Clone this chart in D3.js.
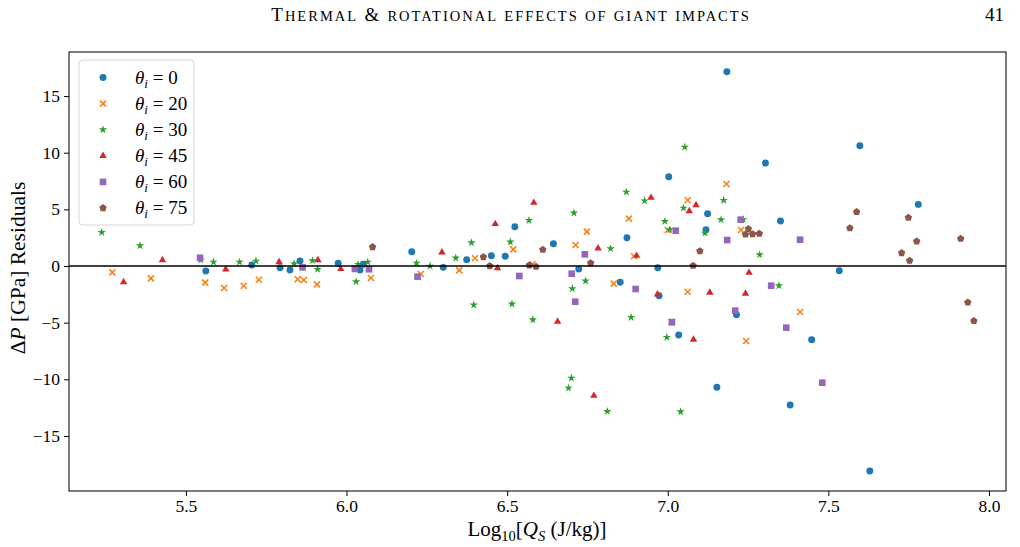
<!DOCTYPE html>
<html><head><meta charset="utf-8">
<script src="https://cdn.jsdelivr.net/npm/d3@7"></script>
<style>
body{margin:0;background:#fff}
svg{display:block}
text{font-family:"Liberation Serif","Times New Roman",serif;fill:#000}
</style>
</head><body>
<svg id="chart" width="1020" height="547"></svg>
<script>
// ---- data ----
const seriesLabels = ["0", "20", "30", "45", "60", "75"];
const colors = ["#1f77b4", "#ff7f0e", "#2ca02c", "#d62728", "#9467bd", "#8c564b"];
const xTicks = [5.5, 6.0, 6.5, 7.0, 7.5, 8.0];
const yTicks = [-15, -10, -5, 0, 5, 10, 15];

const theta0_x = [5.562,5.705,5.793,5.824,5.855,5.974,6.042,6.052,6.203,6.301,6.374,6.451,6.494,6.524,6.644,6.723,6.852,6.873,6.969,6.973,7.003,7.034,7.119,7.124,7.153,7.184,7.214,7.304,7.351,7.381,7.448,7.534,7.598,7.629,7.780];
const theta0_y = [-0.44,0.09,-0.15,-0.35,0.44,0.24,-0.35,0.15,1.26,-0.12,0.56,0.91,0.86,3.47,1.97,-0.26,-1.44,2.50,-0.15,-2.62,7.88,-6.09,3.21,4.62,-10.71,17.15,-4.30,9.09,3.97,-12.27,-6.50,-0.41,10.62,-18.09,5.44];

const theta20_x = [5.271,5.391,5.560,5.619,5.680,5.727,5.848,5.867,5.908,6.076,6.231,6.351,6.400,6.519,6.579,6.713,6.748,6.879,6.832,6.895,7.062,7.062,7.000,7.012,7.183,7.228,7.412,7.244];
const theta20_y = [-0.56,-1.09,-1.47,-1.94,-1.74,-1.21,-1.17,-1.24,-1.62,-1.06,-0.71,-0.38,0.68,1.47,0.15,1.85,3.03,4.18,-1.56,0.86,-2.27,5.80,3.18,-4.91,7.24,3.18,-4.06,-6.62];

const theta30_x = [5.238,5.357,5.546,5.586,5.667,5.718,5.837,5.894,5.910,6.030,6.036,6.066,6.218,6.260,6.340,6.389,6.396,6.510,6.515,6.568,6.580,6.708,6.703,6.744,6.822,6.871,6.886,6.928,6.991,7.006,7.049,7.053,7.174,7.166,7.235,7.116,7.286,7.346,6.997,6.700,6.691,6.812,7.040];
const theta30_y = [2.97,1.79,0.53,0.35,0.35,0.44,0.21,0.47,-0.29,-1.38,0.15,0.35,0.26,0.00,0.71,2.06,-3.44,2.12,-3.35,4.03,-4.74,4.68,-2.00,-1.32,1.53,6.53,-4.53,5.76,3.94,3.21,5.12,10.50,5.80,4.09,4.12,2.91,1.00,-1.74,-6.29,-9.89,-10.77,-12.83,-12.86];

const theta45_x = [5.306,5.427,5.624,5.790,5.911,5.982,6.297,6.463,6.470,6.583,6.657,6.783,6.903,6.948,7.067,7.088,6.968,7.253,7.131,7.242,7.080,6.770];
const theta45_y = [-1.41,0.53,-0.29,0.35,0.53,-0.26,1.21,3.71,-0.18,5.59,-4.91,1.56,0.91,6.03,4.85,5.38,-2.50,-0.59,-2.35,-2.44,-6.50,-11.45];

const theta60_x = [5.544,5.863,6.026,6.070,6.221,6.538,6.701,6.742,6.712,6.900,7.025,7.013,7.227,7.185,7.412,7.322,7.210,7.369,7.481];
const theta60_y = [0.73,-0.12,-0.26,-0.29,-0.94,-0.88,-0.68,1.03,-3.15,-2.03,3.12,-4.97,4.09,2.29,2.32,-1.74,-3.94,-5.44,-10.30];

const theta75_x = [6.081,6.426,6.446,6.569,6.590,6.611,6.760,7.079,7.100,7.251,7.242,7.264,7.285,7.588,7.567,7.749,7.775,7.728,7.753,7.912,7.934,7.953];
const theta75_y = [1.68,0.79,0.00,0.06,-0.06,1.44,0.26,0.03,1.32,3.27,2.79,2.82,2.85,4.77,3.35,4.27,2.18,1.15,0.47,2.41,-3.21,-4.85];

const seriesX = [theta0_x, theta20_x, theta30_x, theta45_x, theta60_x, theta75_x];
const seriesY = [theta0_y, theta20_y, theta30_y, theta45_y, theta60_y, theta75_y];

// ---- layout ----
const svg = d3.select("#chart");
const L = 69, R = 1006, T = 52, B = 491;
const x = d3.scaleLinear().domain([5.136, 8.053]).range([L, R]);
const y = d3.scaleLinear().domain([-19.86, 18.89]).range([B, T]);

// header (small caps)
const head = svg.append("text").attr("x", 511).attr("y", 21).attr("text-anchor", "middle");
const headWords = ["Thermal", "&", "rotational", "effects", "of", "giant", "impacts"];
headWords.forEach((w, i) => {
  if (i > 0) head.append("tspan").style("font-size", "17px").text(" ");
  if (i === 0) {
    head.append("tspan").style("font-size", "19px").text("T");
    head.append("tspan").style("font-size", "14.5px").text(w.slice(1).toUpperCase());
  } else if (w === "&") {
    head.append("tspan").style("font-size", "19px").text("&");
  } else {
    head.append("tspan").style("font-size", "14.5px").text(w.toUpperCase());
  }
});
head.style("letter-spacing", "2px");
svg.append("text").attr("x", 1004).attr("y", 21).attr("text-anchor", "end").style("font-size", "19px").text("41");

// clip
svg.append("clipPath").attr("id", "clip").append("rect").attr("x", L).attr("y", T).attr("width", R - L).attr("height", B - T);

// marker generators
function pentagon(r) {
  const pts = d3.range(5).map(k => {
    const a = -Math.PI / 2 + k * 2 * Math.PI / 5;
    return [r * Math.cos(a), r * Math.sin(a)];
  });
  return "M" + pts.map(p => p.join(",")).join("L") + "Z";
}
function xMark(h) { return `M${-h},${-h}L${h},${h}M${-h},${h}L${h},${-h}`; }
const shapes = [
  {d: d3.symbol(d3.symbolCircle, 38)(), stroke: false},
  {d: xMark(3.0), stroke: true},
  {d: d3.symbol(d3.symbolStar, 22)(), stroke: false},
  {d: d3.symbol(d3.symbolTriangle, 24)(), stroke: false},
  {d: d3.symbol(d3.symbolSquare, 44)(), stroke: false},
  {d: pentagon(3.9), stroke: false}
];
function drawMarker(g, i) {
  const s = shapes[i];
  const p = g.append("path").attr("d", s.d);
  if (s.stroke) p.attr("fill", "none").attr("stroke", colors[i]).attr("stroke-width", 1.6);
  else p.attr("fill", colors[i]);
  return p;
}

// points
const pg = svg.append("g").attr("clip-path", "url(#clip)");
seriesX.forEach((xs, i) => {
  const data = xs.map((v, k) => [v, seriesY[i][k]]);
  const g = pg.append("g");
  data.forEach(d => {
    const m = g.append("g").attr("transform", `translate(${x(d[0])},${y(d[1])})`);
    drawMarker(m, i);
  });
});

// zero line
svg.append("line").attr("x1", L).attr("x2", R).attr("y1", y(0)).attr("y2", y(0))
  .attr("stroke", "#000").attr("stroke-width", 1.5);

// axes
const fmtY = d => (d < 0 ? "\u2212" + Math.abs(d) : String(d));
const xAxis = svg.append("g").attr("transform", `translate(0,${B})`)
  .call(d3.axisBottom(x).tickValues(xTicks).tickFormat(d3.format(".1f")).tickSize(5).tickSizeOuter(0).tickPadding(4));
const yAxis = svg.append("g").attr("transform", `translate(${L},0)`)
  .call(d3.axisLeft(y).tickValues(yTicks).tickFormat(fmtY).tickSize(5).tickSizeOuter(0).tickPadding(4));
[xAxis, yAxis].forEach(a => {
  a.select(".domain").remove();
  a.selectAll("line").attr("stroke", "#000").attr("stroke-width", 1);
  a.selectAll("text").style("font-size", "17.5px").style("font-family", '"Liberation Serif",serif');
});

// frame
svg.append("rect").attr("x", L).attr("y", T).attr("width", R - L).attr("height", B - T)
  .attr("fill", "none").attr("stroke", "#111").attr("stroke-width", 1.1);

// axis labels
const xl = svg.append("text").attr("x", 537).attr("y", 536).attr("text-anchor", "middle").style("font-size", "21px");
xl.append("tspan").text("Log");
xl.append("tspan").attr("dy", 5).style("font-size", "14.5px").text("10");
xl.append("tspan").attr("dy", -5).text("[");
xl.append("tspan").style("font-style", "italic").text("Q");
xl.append("tspan").attr("dy", 5).style("font-size", "14.5px").style("font-style", "italic").text("S");
xl.append("tspan").attr("dy", -5).text(" (J/kg)]");

const yl = svg.append("text").attr("transform", "translate(25,268) rotate(-90)").attr("text-anchor", "middle").style("font-size", "21.5px");
yl.append("tspan").text("\u0394");
yl.append("tspan").style("font-style", "italic").text("P");
yl.append("tspan").text(" [GPa] Residuals");

// legend
const lg = svg.append("g");
lg.append("rect").attr("x", 79).attr("y", 60).attr("width", 115).attr("height", 165).attr("rx", 4)
  .attr("fill", "#fff").attr("fill-opacity", 0.8).attr("stroke", "#d5d5d5").attr("stroke-width", 1);
seriesLabels.forEach((lab, i) => {
  const cy = 77.5 + i * 26.1;
  const m = lg.append("g").attr("transform", `translate(103,${cy})`);
  drawMarker(m, i);
  const t = lg.append("text").attr("x", 135).attr("y", cy + 6).style("font-size", "19px");
  t.append("tspan").style("font-style", "italic").text("\u03b8");
  t.append("tspan").attr("dy", 4).style("font-size", "13px").style("font-style", "italic").text("i");
  t.append("tspan").attr("dy", -4).text(" = " + lab);
});
</script>
</body></html>
